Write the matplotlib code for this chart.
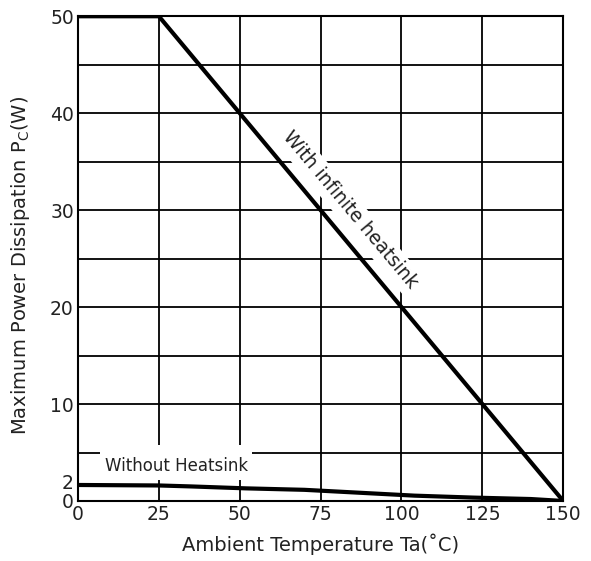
import matplotlib.pyplot as plt
from matplotlib.patches import Rectangle

plt.rcParams['font.family'] = ['DejaVu Sans']

# derating curves
temp_inf = [0, 25, 150]
power_inf = [50, 50, 0]

temp_no = [0, 25, 35, 52, 70, 87, 104, 122, 140, 150]
power_no = [1.65, 1.6, 1.5, 1.3, 1.15, 0.85, 0.55, 0.35, 0.2, 0]

xticks = [0, 25, 50, 75, 100, 125, 150]
yticks = [0, 2, 10, 20, 30, 40, 50]
grid_x = [25, 50, 75, 100, 125]
grid_y = [5, 10, 15, 20, 25, 30, 35, 40, 45]

fig = plt.figure(figsize=(5.91, 5.61), dpi=100)
ax = fig.add_axes([0.132, 0.107, 0.821, 0.864])

for gx in grid_x:
    ax.axvline(gx, color='black', lw=1.3, zorder=1)
for gy in grid_y:
    ax.axhline(gy, color='black', lw=1.3, zorder=1)

ax.plot(temp_inf, power_inf, color='black', lw=3, zorder=5, solid_capstyle='butt')
ax.plot(temp_no, power_no, color='black', lw=3, zorder=5)

# white patch behind the "without" label
ax.add_patch(Rectangle((6.8, 2.2), 47, 3.6, facecolor='white', edgecolor='none', zorder=2))
ax.text(30.5, 3.6, 'Without Heatsink', fontsize=12, ha='center', va='center', zorder=4,
        color='#222222')
ax.text(84, 30, 'With infinite heatsink', fontsize=13.5, ha='center', va='center',
        rotation=-50, zorder=4, color='#222222',
        bbox=dict(facecolor='white', edgecolor='none', pad=3))

ax.set_xlim(0, 150)
ax.set_ylim(0, 50)
ax.set_xticks(xticks)
ax.set_yticks(yticks)
ax.tick_params(length=0, labelsize=13.5, pad=3, labelcolor='#222222')
for s in ax.spines.values():
    s.set_linewidth(1.5)

ax.set_xlabel('Ambient Temperature Ta(˚C)', fontsize=14, labelpad=7, color='#222222')
ax.set_ylabel(r'Maximum Power Dissipation P$_{\rm C}$(W)', fontsize=14, color='#222222')
ax.yaxis.set_label_coords(-0.095, 0.485)

fig.savefig('out.png', dpi=100)
